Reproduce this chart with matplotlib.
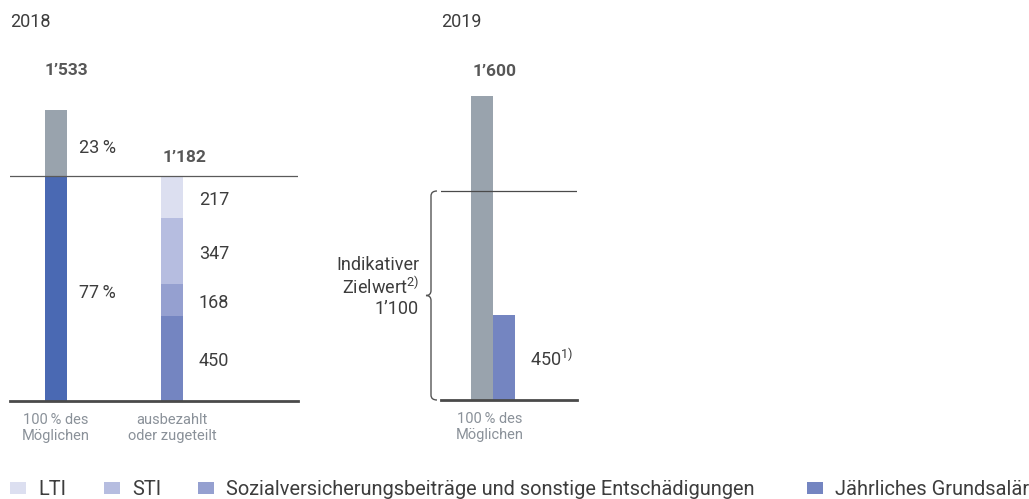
import matplotlib
matplotlib.use("Agg")
import matplotlib.pyplot as plt
import matplotlib.transforms as mtransforms
from matplotlib.patches import Rectangle, PathPatch
from matplotlib.path import Path

plt.rcParams['font.family'] = ['Roboto', 'DejaVu Sans']
plt.rcParams['mathtext.fontset'] = 'custom'
plt.rcParams['mathtext.rm'] = 'Roboto'

# ---------------- data ----------------
years = ['2018', '2019']
categories_2018 = ['100\u202f% des\nMöglichen', 'ausbezahlt\noder zugeteilt']
categories_2019 = ['100\u202f% des\nMöglichen']
possible_2018 = 1533
share_fixed_2018 = 77          # %
share_variable_2018 = 23       # %
components = ['Jährliches Grundsalär',
              'Sozialversicherungsbeiträge und sonstige Entschädigungen',
              'STI', 'LTI']
paid_2018 = [450, 168, 347, 217]
paid_total_2018 = 1182
possible_2019 = 1600
target_2019 = 1100
base_2019 = 450
legend_labels = ['LTI', 'STI',
                 'Sozialversicherungsbeiträge und sonstige Entschädigungen',
                 'Jährliches Grundsalär']

# ---------------- style ----------------
GRAY = '#99a3ad'
BLUE_DARK = '#4a69b3'
comp_colors = {
    'Jährliches Grundsalär': '#7485c1',
    'Sozialversicherungsbeiträge und sonstige Entschädigungen': '#95a0d0',
    'STI': '#b6bde0',
    'LTI': '#dcdff0',
}
TXT = '#3d3d3d'
TXT_BOLD = '#575757'
TXT_CAT = '#8a9199'
FS = 13


def fmt(v):
    return f"{v:,}".replace(',', '\u2019')


W, H = 1029, 499
fig = plt.figure(figsize=(W / 100, H / 100), dpi=100)


def px_axes(left, top, right, bottom):
    return fig.add_axes([left / W, 1 - bottom / H, (right - left) / W, (bottom - top) / H])


S = 0.19      # pixels per unit
U = 116.0     # pixels per category step
BW = 22 / U   # bar width

# ---------------- 2018 ----------------
ax1 = px_axes(10, 30, 298, 401)
ax1.set_ylim(0, 371 / S)
ax1.set_xlim(-46 / U, 242 / U)
ax1.axis('off')

x1 = [0, 1]
fixed_val = possible_2018 * share_fixed_2018 / 100
ax1.bar(x1[0], fixed_val, width=BW, color=BLUE_DARK, zorder=2)
ax1.bar(x1[0], possible_2018 - fixed_val, bottom=fixed_val, width=BW, color=GRAY, zorder=2)

bottom = 0
for comp, v in zip(components, paid_2018):
    ax1.bar(x1[1], v, bottom=bottom, width=BW, color=comp_colors[comp], zorder=2)
    ax1.annotate(str(v), xy=(x1[1] + BW / 2, bottom + v / 2), xytext=(16, -3),
                 textcoords='offset pixels', ha='left', va='center', fontsize=FS, color=TXT)
    bottom += v

ax1.axhline(paid_total_2018, color='#5a5a5a', lw=0.9, zorder=3)
ax1.axhline(0, color='#4a4a4a', lw=2, zorder=3, clip_on=False)

ax1.annotate(f"{share_variable_2018}\u202f%", xy=(x1[0] + BW / 2, (fixed_val + possible_2018) / 2),
             xytext=(12, -5), textcoords='offset pixels', ha='left', va='center',
             fontsize=FS, color=TXT)
ax1.annotate(f"{share_fixed_2018}\u202f%", xy=(x1[0] + BW / 2, fixed_val / 2),
             xytext=(12, -4), textcoords='offset pixels', ha='left', va='center',
             fontsize=FS, color=TXT)
ax1.annotate(fmt(possible_2018), xy=(x1[0] - BW / 2, possible_2018), xytext=(0, 39),
             textcoords='offset pixels', ha='left', va='center', fontsize=FS - 0.5,
             fontweight='bold', color=TXT_BOLD)
ax1.annotate(fmt(paid_total_2018), xy=(x1[1] - BW / 2, paid_total_2018), xytext=(2, 19),
             textcoords='offset pixels', ha='left', va='center', fontsize=FS - 0.5,
             fontweight='bold', color=TXT_BOLD)
for xi, lab in zip(x1, categories_2018):
    ax1.annotate(lab, xy=(xi, 0), xytext=(0, -12), textcoords='offset pixels',
                 ha='center', va='top', fontsize=10.5, color=TXT_CAT, linespacing=1.2)

# ---------------- 2019 ----------------
ax2 = px_axes(441, 30, 577, 400)
ax2.set_ylim(0, 370 / S)
ax2.set_xlim(-52 / U, 84 / U)
ax2.axis('off')

ax2.bar(-BW / 2, possible_2019, width=BW, color=GRAY, zorder=2)
ax2.bar(BW / 2, base_2019, width=BW, color=comp_colors['Jährliches Grundsalär'], zorder=2)
ax2.axhline(target_2019, color='#4a4a4a', lw=0.9, zorder=3)
ax2.axhline(0, color='#4a4a4a', lw=2, zorder=3, clip_on=False)

ax2.annotate(fmt(possible_2019), xy=(-BW, possible_2019), xytext=(2, 25),
             textcoords='offset pixels', ha='left', va='center', fontsize=FS - 0.5,
             fontweight='bold', color=TXT_BOLD)
ax2.annotate(f"{base_2019}" + r"$^{\mathregular{1)}}$", xy=(BW, base_2019 / 2), xytext=(15, -2),
             textcoords='offset pixels', ha='left', va='center', fontsize=FS, color=TXT)
ax2.annotate(categories_2019[0], xy=(0, 0), xytext=(-3, -12), textcoords='offset pixels',
             ha='center', va='top', fontsize=10.5, color=TXT_CAT, linespacing=1.2)

# brace
bt = mtransforms.blended_transform_factory(ax2.transAxes, ax2.transData)
xe = -4 / 136
xv = -10 / 136
xt = -15 / 136
r = 5 / S
mid = target_2019 / 2
verts = [(xe, target_2019), (xv, target_2019), (xv, target_2019 - r),
         (xv, mid + r), (xv, mid), (xt, mid),
         (xv, mid), (xv, mid - r),
         (xv, r), (xv, 0), (xe, 0)]
codes = [Path.MOVETO, Path.CURVE3, Path.CURVE3,
         Path.LINETO, Path.CURVE3, Path.CURVE3,
         Path.CURVE3, Path.CURVE3,
         Path.LINETO, Path.CURVE3, Path.CURVE3]
ax2.add_patch(PathPatch(Path(verts, codes), transform=bt, fill=False,
                        edgecolor='#555555', lw=1.0, clip_on=False))

xr = -22 / 136
for txt, dy in [('Indikativer', 30), ('Zielwert' + r'$^{\mathregular{2)}}$', 8),
                (fmt(target_2019), -13)]:
    ax2.annotate(txt, xy=(xr, mid), xycoords=bt, xytext=(0, dy), textcoords='offset pixels',
                 ha='right', va='center', fontsize=FS, color=TXT)

# year titles
fig.text(10 / W, 1 - 22 / H, years[0], ha='left', va='center', fontsize=FS, color=TXT)
fig.text(441 / W, 1 - 22 / H, years[1], ha='left', va='center', fontsize=FS, color=TXT)

# ---------------- legend ----------------
leg_x = [10, 104, 198, 807]
for x, lab in zip(leg_x, legend_labels):
    fig.add_artist(Rectangle((x / W, 1 - 494 / H), 16 / W, 12 / H, transform=fig.transFigure,
                             facecolor=comp_colors[lab], edgecolor='none'))
    fig.text((x + 28) / W, 1 - 495 / H, lab, ha='left', va='baseline', fontsize=14.4, color=TXT)

fig.savefig('out.png', dpi=100)
